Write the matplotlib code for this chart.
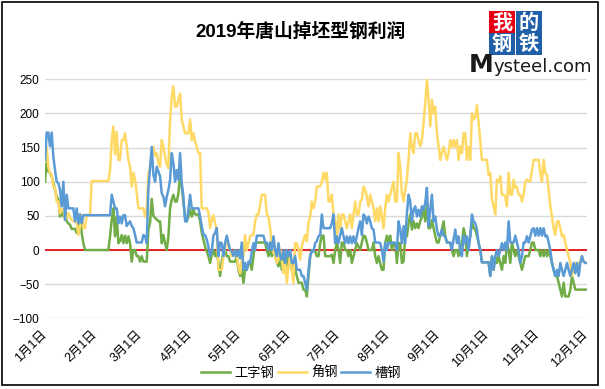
import numpy as np
import pandas as pd
import matplotlib
matplotlib.use("Agg")
import matplotlib.pyplot as plt
from matplotlib.patches import Rectangle

plt.rcParams['font.family'] = ['Liberation Sans', 'Noto Sans CJK SC']

title = "2019年唐山掉坯型钢利润"
series_names = ["工字钢", "角钢", "槽钢"]
month_labels = ["%d月1日" % m for m in range(1, 13)]
start_date = "2019-01-01"
end_date = "2019-12-02"

# 工字钢
gongzi = [
    100, 132, 115, 113, 108, 98, 88, 78, 74, 49, 59, 49, 59, 42, 39, 37, 31, 31, 31, 25, 35, 52, 25, 10,
    0, 0, 0, 0, 0, 0, 0, 0, 0, 0, 0, 0, 0, 0, 0,
    20, 44, 61, 20, 49, 10, 13, 22, 10, 21, 10, 20,
    10, -17, 0, 0, -9, -9, -17, -9, -17, -17, -17, 30, 40, 75, 50, 47, 45, 42, 42, 10,
    22, 10, 0, 20, 61, 74, 81, 71, 71, 83, 110, 93, 69, 49, 42, 49, 59, 49, 59, 52,
    52, 52, 42, 25, 15, 5, -2, -9, -19, -7, 0, -9, -2, -19,
    -38, -17, -2, 0, -9, -9, -17, -17, -17, -17, -9, -29, -38, -29, -48, -29, -29, -19, -19, -29,
    -9, 10, 11, 11, 11, 11, 11, 11, 0, -9, 0, -9, 0, -9, -17, -24, -9, -29, -9, -19,
    -24, -9, -17, -29, -19, -29, -38, -48, -48, -48, -58, -58, -68, -38,
    -9, -2, 0, -2, -9, -9, 10, 21, 21, -9, -9, -9, -9, -7, -19, 0, 11, 0, -19, 11,
    10, 0, 0, -9, 0, -19, -9, 0, 10, 5, 0, 11, 21, 20, 11, 0, 0, 0, 11, -9,
    -19, -9, -19, -29, -29, 10, 21, 11, 21, 0, 11, 10, -19, 10,
    10, -19, -17, 21, 20, 39, 52, 30, 42, 32, 39, 32, 42, 49, 59, 42, 69, 32, 32, 44,
    32, 21, 11, 11, 21, 30, 42, 20, 11, 11, 10, 0, -9, 0, 0, -9, 5, 10, 32, 21,
    -9, 10, 20, 42, 32, 30, 21, 10, 0, -18, -18, -18, -18, -18,
    -38, -9, -29, -9, -19, -9, -19, -29, -9, -19, 10, 0, -19, 10, 0, -9, 0, -9, -19, -29,
    -19, -9, -9, -9, 0, 11, 11, 0, 0, 0, -9, 0, -9, 0, -9, 0, -9, -19, -29, -38,
    -38, -48, -58, -68, -48, -68, -68, -68, -58, -38, -48, -58, -58, -58, -58, -58, -58, -58, -58,
]

# 角钢
jiao = [
    130, 151, 122, 113, 110, 93, 91, 71, 71, 54, 60, 59, 44, 49, 54, 47, 44, 42, 42, 39, 22, 35, 51, 32,
    32, 51, 51, 51,
    101, 101, 101, 101, 101, 101, 101, 101, 101, 101, 101,
    117, 160, 181, 140, 173, 132, 132, 161, 161, 171, 151, 132,
    122, 93, 113, 103, 83, 61, 61, 61, 61, 49, 61, 110, 122, 140, 151, 138, 142, 127, 122, 161,
    151, 137, 125, 120, 190, 225, 240, 210, 210, 220, 229, 191, 181, 171, 171, 171, 191, 161, 171, 159,
    151, 142, 142, 61, 61, 61, 61, 55, 32, 45, 51, 39, 30, -29,
    -29, -29, -9, 5, 15, 5, 0, -9, -4, 0, -9, -24, -34, -14, -9, 22, 0, 10, 20, 22,
    22, 42, 52, 52, 66, 81, 81, 81, 52, 49, 32, 5, -4, -7, -19, -14, 0, -14, -34, -19,
    -48, -24, -9, -29, -48, 10, 10, 0, -14, 5, 15, 22, 13, 40,
    49, 71, 61, 71, 93, 93, 93, 100, 113, 103, 113, 71, 71, 81, 52, 42, 20, 52, 30, 52,
    52, 42, 32, 42, 52, 32, 52, 71, 52, 52, 71, 74, 93, 88, 78, 64, 81, 71, 61, 42,
    61, 42, 64, 49, 32, 61, 81, 71, 81, 91, 100, 71, 71, 142,
    122, 83, 71, 88, 103, 132, 171, 151, 142, 171, 171, 161, 152, 161, 186, 215, 250, 220, 181, 220,
    200, 210, 171, 151, 132, 142, 151, 142, 132, 142, 161, 151, 161, 151, 161, 132, 152, 142, 171, 171,
    132, 151, 132, 200, 191, 195, 212, 186, 161, 132, 132, 132, 132, 110,
    113, 74, 64, 52, 103, 100, 108, 81, 81, 78, 64, 113, 81, 81, 103, 91, 93, 81, 81, 71,
    81, 100, 103, 101, 101, 117, 132, 132, 132, 132, 113, 100, 132, 113, 110, 88, 64, 49, 32, 22,
    42, 42, 32, 20, 22, 11, 0, -9, -19, -38, -29, -19, -29, -19, -17, -9, -17, -19, -19,
]

# 槽钢
cao = [
    132, 172, 172, 152, 172, 137, 117, 100, 98, 88, 64, 100, 44, 81, 61, 61, 61, 61, 42, 61, 39, 52, 39, 51,
    51, 51, 51, 51, 51, 51, 51, 51, 51, 51, 51, 51, 51, 51, 51, 51,
    81, 71, 61, 61, 39, 49, 39, 51, 51, 35, 39,
    42, 35, 32, 22, 11, 11, 11, 11, 22, 20, 10, 90, 120, 151, 110, 100, 122, 115, 108, 83,
    78, 64, 78, 88, 103, 142, 127, 100, 117, 103, 142, 98, 78, 42, 42, 59, 81, 61, 61, 61,
    61, 61, 49, 35, 22, 22, 15, 5, -9, -2, 21, 25, 32, -9,
    11, 10, -9, 10, 21, 10, 0, -2, -9, 0, -9, 0, -12, 11, -29, -19, -29, -17, -19, -2,
    10, 0, 21, 21, 21, 21, 21, 11, 11, 0, 11, 0, 20, 0, -9, 10, -9, -14, 0, -19,
    0, -9, 0, -19, -19, -9, -29, -29, -29, -38, -38, -48, -58, -29,
    -9, 0, -2, 10, 13, 20, 22, 52, 32, 32, 32, 32, 32, 39, 52, 10, 20, 10, 22, 32,
    20, 10, 20, 10, 20, 10, 20, 10, 20, 32, 42, 22, 52, 49, 39, 49, 42, 32, 30, 11,
    11, 11, 10, 0, -17, 10, 0, 11, 10, 10, 11, 10, 0, 42,
    30, 10, 35, 10, 54, 81, 71, 42, 59, 64, 49, 59, 49, 64, 59, 69, 91, 35, 59, 81,
    42, 49, 30, 21, 21, 30, 21, 20, 11, 11, 11, 0, 15, 30, 10, 20, 0, -9, 21, 10,
    20, 0, 20, 52, 42, 39, 30, 10, 0, -18, -18, -18, -18, -18,
    -38, -9, -29, -9, 0, -9, 0, 10, 0, 11, 0, 42, 11, 11, 11, 21, 11, 0, -19, -9,
    11, 11, 20, 11, 20, 30, 32, 21, 32, 21, 32, 21, 32, 20, 21, 11, 0, -19, -29, -38,
    -29, -38, -19, -29, -38, -29, -19, -29, -38, -29, -19, -34, -19, -38, -19, -9, -17, -19, -19,
]

dates = pd.date_range(start_date, end_date, periods=len(gongzi))
month_ticks = pd.date_range(start_date, periods=12, freq="MS")

W, H = 605, 389
fig = plt.figure(figsize=(W / 100, H / 100), dpi=100)

ax = fig.add_axes([45 / W, 1 - 318.3 / H, 542 / W, 239 / H])
ax.set_ylim(-100, 250)
ax.set_xlim(dates[0], dates[-1])
ax.set_yticks(np.arange(-100, 251, 50))
ax.yaxis.grid(True, color="#D9D9D9", lw=1.0)
ax.set_axisbelow(True)
for s in ax.spines.values():
    s.set_visible(False)
ax.axhline(0, color="#E00000", lw=1.2, zorder=1.5)

ax.plot(dates, gongzi, color="#70AD47", lw=1.8, label=series_names[0], zorder=3)
ax.plot(dates, jiao, color="#FFD966", lw=1.8, label=series_names[1], zorder=3)
ax.plot(dates, cao, color="#5B9BD5", lw=1.8, label=series_names[2], zorder=3)

ax.set_xticks(month_ticks)
ax.set_xticklabels(month_labels, rotation=45, ha="right", va="center",
                   rotation_mode="anchor", fontsize=9)
ax.tick_params(axis="x", length=0, pad=10)
ax.tick_params(axis="y", length=0, pad=4, labelsize=8.5)

fig.legend(loc="center", bbox_to_anchor=(301 / W, 1 - 373 / H), ncol=3, frameon=False,
           fontsize=9.5, handlelength=2.2, handletextpad=0.3, columnspacing=0.3)

# overlay in pixel coordinates for title, logo and chart border
ov = fig.add_axes([0, 0, 1, 1], zorder=10)
ov.set_xlim(0, W)
ov.set_ylim(H, 0)
ov.axis("off")
ov.patch.set_alpha(0)

ov.text(301, 32, title, ha="center", va="center", fontsize=13.5, fontweight="bold",
        family=["Liberation Sans", "Noto Sans CJK SC"])

logo = [("我", 489, 11, "#E60012"), ("的", 516, 11, "#1F5FA8"),
        ("钢", 489, 33, "#1F5FA8"), ("铁", 516, 33, "#1F5FA8")]
for ch, lx, ly, col in logo:
    ov.add_patch(Rectangle((lx, ly), 26, 21.5, color=col, lw=0))
    ov.text(lx + 13, ly + 11, ch, ha="center", va="center", color="white",
            fontsize=14.5, fontweight="bold", family="Noto Sans CJK SC")
ov.text(469, 72, "M", ha="left", va="baseline", fontsize=18, fontweight="bold",
        family="DejaVu Sans", color="#1a1a1a")
ov.text(494, 72, "ysteel.com", ha="left", va="baseline", fontsize=13,
        family="DejaVu Sans", color="#1a1a1a")

ov.add_patch(Rectangle((2, 2), 596, 383, fill=False, ec="black", lw=1.2))

fig.savefig("out.png", dpi=100)
